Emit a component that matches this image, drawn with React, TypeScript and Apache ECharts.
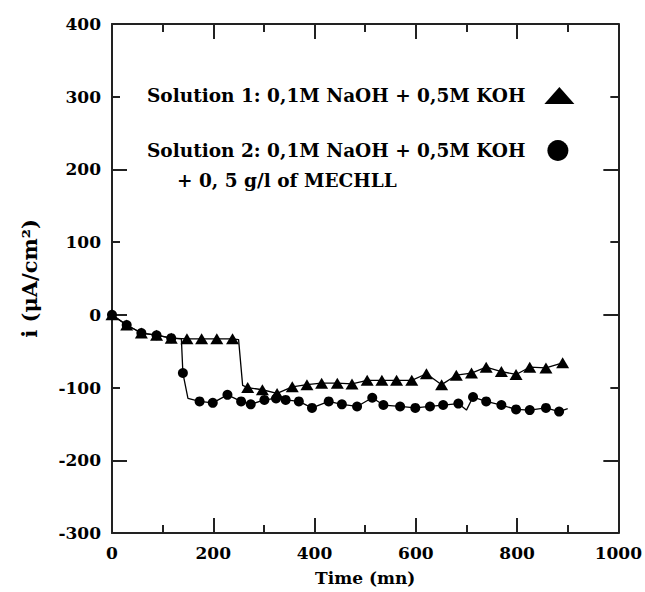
import React, { useEffect, useRef } from "react";
import * as echarts from "echarts";

const FONT = "'DejaVu Serif', 'Liberation Serif', serif";

const NAME1 = "Solution 1: 0,1M NaOH + 0,5M KOH";
const NAME2 = "Solution 2: 0,1M NaOH + 0,5M KOH";
const NAME2_EXTRA = "+ 0, 5 g/l of MECHLL";

// Solution 1 (triangles)
const solution1Time = [0, 29, 58, 88, 117, 148, 177, 207, 238, 250, 258, 268, 297, 326, 356, 385, 414, 445, 474, 504, 533, 562, 592, 621, 651, 680, 710, 739, 769, 798, 825, 857, 890];
const solution1Current = [0, -14, -25, -28, -32, -33, -33, -33, -33, -34, -97, -100, -103, -108, -99, -96, -94, -94, -95, -90, -90, -90, -90, -81, -96, -83, -80, -72, -78, -82, -72, -73, -66];
const solution1NoMarker = [9, 10];

// Solution 2 (circles)
const solution2Time = [0, 29, 58, 88, 117, 137, 140, 150, 173, 199, 228, 255, 274, 301, 324, 343, 369, 395, 428, 454, 484, 514, 536, 569, 599, 628, 654, 684, 700, 713, 739, 769, 798, 825, 857, 883, 900];
const solution2Current = [0, -14, -25, -28, -32, -33, -80, -115, -119, -121, -110, -119, -123, -117, -115, -117, -119, -128, -119, -123, -126, -114, -124, -126, -128, -126, -124, -122, -131, -113, -119, -124, -130, -131, -128, -133, -129];
const solution2NoMarker = [5, 7, 28, 36];

// Axis ticks
const yLongTicks = [-200, 0, 200];

export default function App() {
  const ref = useRef<HTMLDivElement>(null);

  useEffect(() => {
    const chart = echarts.init(ref.current as HTMLDivElement, null, { renderer: "svg" });

    const build = (ts: number[], vs: number[], none: number[]) =>
      ts.map((t, i) => (none.includes(i) ? { value: [t, vs[i]], symbol: "none" } : { value: [t, vs[i]] }));

    const lineStyle = { color: "#222", width: 2 };
    const labelStyle = { color: "#000", fontFamily: FONT, fontWeight: "bold" as const, fontSize: 17 };
    const plain = (v: number) => String(v);

    const xBase = {
      type: "value" as const,
      min: 0,
      max: 1000,
      interval: 200,
      axisLine: { show: true, onZero: false, lineStyle },
      axisTick: { show: true, inside: true, length: 15, lineStyle },
      minorTick: { show: true, splitNumber: 2, length: 8, lineStyle },
      splitLine: { show: false },
      minorSplitLine: { show: false },
    };
    const yShort = {
      type: "value" as const,
      min: -300,
      max: 400,
      interval: 100,
      axisLine: { show: true, onZero: false, lineStyle },
      axisTick: { show: true, inside: true, length: 8, lineStyle },
      splitLine: { show: false },
    };
    const yLong = {
      type: "value" as const,
      min: -300,
      max: 400,
      interval: 100,
      axisLine: { show: false, onZero: false },
      axisTick: { show: true, inside: true, length: 15, lineStyle, customValues: yLongTicks },
      axisLabel: { show: false },
      splitLine: { show: false },
    };
    const legendText = { ...labelStyle, fontSize: 18.5 };

    chart.setOption({
      animation: false,
      backgroundColor: "#fff",
      grid: { left: 112, right: 24, top: 24, bottom: 59, containLabel: false },
      xAxis: [
        {
          ...xBase,
          position: "bottom",
          axisLabel: { ...labelStyle, margin: 11, formatter: plain },
          name: "Time (mn)",
          nameLocation: "middle",
          nameGap: 36,
          nameTextStyle: { ...labelStyle, fontSize: 17 },
        },
        { ...xBase, position: "top", axisLabel: { show: false } },
      ],
      yAxis: [
        {
          ...yShort,
          position: "left",
          axisLabel: { ...labelStyle, margin: 11, formatter: plain },
          name: "i (μA/cm²)",
          nameLocation: "middle",
          nameRotate: 90,
          nameGap: 72,
          nameTextStyle: { ...labelStyle, fontSize: 21 },
        },
        { ...yShort, position: "right", axisLabel: { show: false } },
        { ...yLong, position: "left" },
        { ...yLong, position: "right" },
      ],
      legend: [
        {
          left: 147,
          top: 86,
          padding: 0,
          align: "right",
          orient: "vertical",
          itemWidth: 30,
          itemHeight: 17,
          selectedMode: false,
          data: [{ name: NAME1, icon: "triangle" }],
          itemStyle: { color: "#000", borderWidth: 0 },
          textStyle: { ...legendText, padding: [0, 14, 0, 0] },
        },
        {
          left: 147,
          top: 140,
          padding: 0,
          align: "right",
          orient: "vertical",
          itemWidth: 23,
          itemHeight: 21,
          selectedMode: false,
          data: [{ name: NAME2, icon: "circle" }],
          itemStyle: { color: "#000", borderWidth: 0 },
          textStyle: { ...legendText, padding: [0, 16, 0, 0] },
        },
      ],
      graphic: [
        {
          type: "text",
          left: 177,
          top: 171,
          style: { text: NAME2_EXTRA, font: `bold 18.5px ${FONT}`, fill: "#000" },
        },
      ],
      series: [
        {
          name: NAME2,
          type: "line",
          xAxisIndex: 0,
          yAxisIndex: 0,
          data: build(solution2Time, solution2Current, solution2NoMarker),
          symbol: "circle",
          symbolSize: 10,
          showAllSymbol: true,
          lineStyle: { color: "#000", width: 1.3 },
          itemStyle: { color: "#000" },
          z: 3,
        },
        {
          name: NAME1,
          type: "line",
          xAxisIndex: 0,
          yAxisIndex: 0,
          data: build(solution1Time, solution1Current, solution1NoMarker),
          symbol: "triangle",
          symbolSize: [13, 11],
          showAllSymbol: true,
          lineStyle: { color: "#000", width: 1.3 },
          itemStyle: { color: "#000" },
          z: 4,
        },
      ],
    });

    return () => chart.dispose();
  }, []);

  return <div ref={ref} style={{ position: "fixed", left: 0, top: 0, width: 645, height: 592 }} />;
}
